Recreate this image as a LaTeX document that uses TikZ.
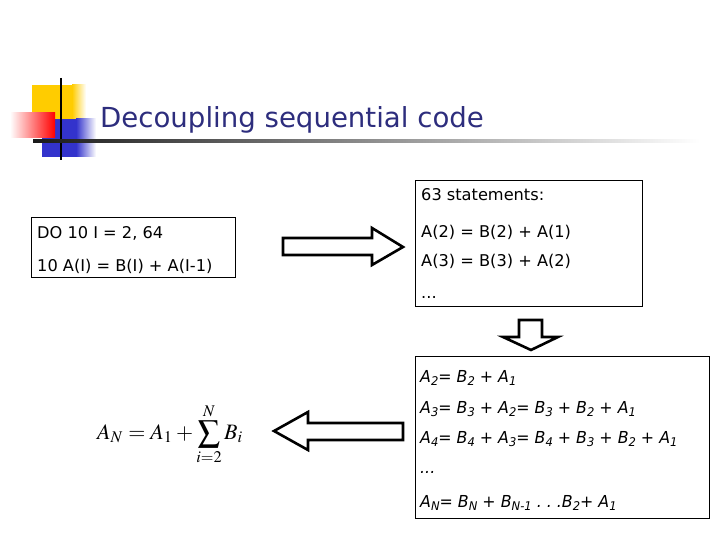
\documentclass[tikz,border=0pt]{standalone}
\usepackage{mathptmx}
\usepackage{fontspec}
\setmainfont{DejaVu Sans}
\definecolor{titleblue}{RGB}{45,45,125}
\definecolor{decoyellow}{RGB}{255,204,0}
\definecolor{decoblue}{RGB}{51,51,204}
\newcommand{\sbs}[1]{\raisebox{-0.4ex}{\fontsize{12}{13}\selectfont #1}}
\newcommand{\itline}[1]{\scalebox{0.96}[1]{#1}}
\begin{document}
\begin{tikzpicture}[x=1pt,y=-1pt,
  txt/.style={anchor=base west, inner sep=0pt, font=\fontsize{16.2}{19}\selectfont},
  itxt/.style={anchor=base west, inner sep=0pt, font=\fontsize{16.5}{19}\selectfont\itshape},
  box/.style={draw, line width=0.9pt, anchor=north west, inner sep=0pt},
  barrow/.style={draw, line width=2.6pt, fill=white, line join=miter}]
\useasboundingbox (0,0) rectangle (720,540);
% decoration
\fill[decoyellow] (32,85) rectangle (72,120);
\shade[left color=decoyellow, right color=white] (72,85) rectangle (86,120);
\fill[decoblue] (42,119) rectangle (76,157);
\shade[left color=decoblue, right color=white] (76,119) rectangle (96,157);
\shade[left color=white, right color=red] (10,113) rectangle (55,138);
\draw[line width=2.4pt] (61,78) -- (61,160);
\shade[left color=black!90, right color=white] (33,139.8) rectangle (700,142.4);
\node[anchor=base west, inner sep=0pt, text=titleblue, font=\fontsize{27.6}{30}\selectfont] (title) at (100,128) {Decoupling sequential code};
% box 1
\node[box, minimum width=204, minimum height=60] (b1) at (31,217) {};
\node[txt] (l1a) at (37,239) {DO 10 I = 2, 64};
\node[txt] (l1b) at (37,271) {10 A(I) = B(I) + A(I-1)};
% box 2
\node[box, minimum width=227, minimum height=126] (b2) at (415,180) {};
\node[txt] (l2a) at (421,201) {63 statements:};
\node[txt] (l2b) at (421,237) {A(2) = B(2) + A(1)};
\node[txt] (l2c) at (421,266) {A(3) = B(3) + A(2)};
\node[txt] (l2d) at (421,298) {...};
% box 3
\node[box, minimum width=294, minimum height=162] (b3) at (415,356) {};
\node[itxt] (l3a) at (420,382) {\itline{A\sbs{2}= B\sbs{2} + A\sbs{1}}};
\node[itxt] (l3b) at (420,413) {\itline{A\sbs{3}= B\sbs{3} + A\sbs{2}= B\sbs{3} + B\sbs{2} + A\sbs{1}}};
\node[itxt] (l3c) at (420,443) {\itline{A\sbs{4}= B\sbs{4} + A\sbs{3}= B\sbs{4} + B\sbs{3} + B\sbs{2} + A\sbs{1}}};
\node[itxt] (l3d) at (420,473) {\itline{...}};
\node[itxt] (l3e) at (420,507) {\itline{A\sbs{N}= B\sbs{N} + B\sbs{N-1}~.~.~.B\sbs{2}+ A\sbs{1}}};
% formula
\node[anchor=west, inner sep=0pt] (formula) at (97,434) {\resizebox{146pt}{!}{$\displaystyle A_N = A_1 + \sum_{i=2}^{N} B_i$}};
% block arrows
\draw[barrow] (283,238) -- (372,238) -- (372,228) -- (403,247) -- (372,265) -- (372,255) -- (283,255) -- cycle;
\draw[barrow] (519,320) -- (542,320) -- (542,337) -- (558,337) -- (531,350) -- (503,337) -- (519,337) -- cycle;
\draw[barrow] (403,423) -- (308,423) -- (308,412) -- (274,431) -- (308,450) -- (308,440) -- (403,440) -- cycle;
\end{tikzpicture}
\end{document}
